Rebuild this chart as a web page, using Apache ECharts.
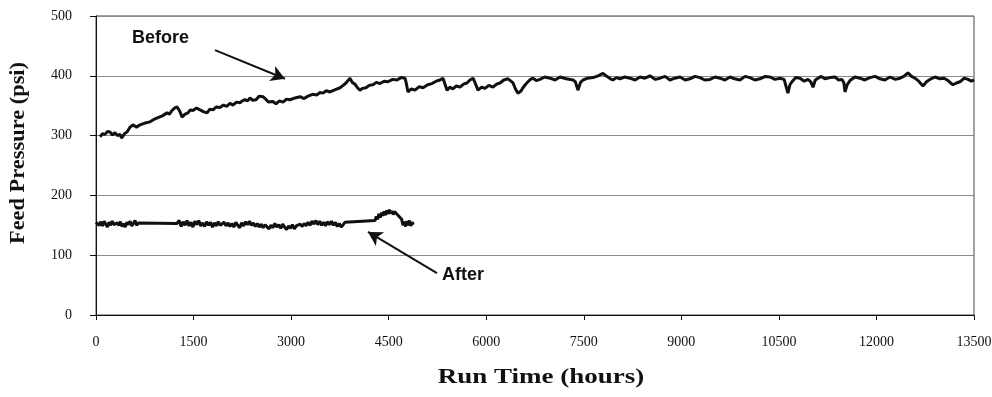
<!DOCTYPE html>
<html>
<head>
<meta charset="utf-8">
<script src="https://cdn.jsdelivr.net/npm/echarts@6/dist/echarts.min.js"></script>
<style>
  html, body { margin: 0; padding: 0; background: #fff; }
  #chart { width: 992px; height: 397px; }
</style>
</head>
<body>
<div id="chart"></div>
<script>
// run time ticks (hours) and pressure ticks (psi)
var xTicks = [0, 1500, 3000, 4500, 6000, 7500, 9000, 10500, 12000, 13500];
var yTicks = [0, 100, 200, 300, 400, 500];

// "Before" run: hours / feed pressure
var beforeHours = [62, 100, 138, 177, 215, 254, 292, 330, 369, 392, 415, 446, 477, 523, 569, 623,
  677, 753, 830, 890, 953, 1020, 1092, 1130, 1169, 1207, 1245, 1270, 1292, 1322, 1370, 1415,
  1450, 1491, 1545, 1599, 1650, 1707, 1750, 1799, 1850, 1907, 1960, 2014, 2060, 2106, 2160, 2214,
  2250, 2291, 2330, 2368, 2410, 2460, 2510, 2568, 2600, 2629, 2650, 2675, 2720, 2768, 2820, 2875,
  2930, 2983, 3060, 3137, 3200, 3260, 3330, 3398, 3440, 3490, 3540, 3598, 3680, 3752, 3800, 3844,
  3875, 3905, 3940, 3982, 4020, 4059, 4100, 4151, 4200, 4259, 4310, 4367, 4430, 4490, 4560, 4628,
  4690, 4751, 4770, 4797, 4850, 4905, 4970, 5028, 5100, 5166, 5230, 5289, 5335, 5360, 5397, 5440,
  5489, 5540, 5597, 5650, 5704, 5750, 5797, 5830, 5873, 5930, 5981, 6040, 6104, 6160, 6212, 6270,
  6335, 6380, 6412, 6450, 6488, 6530, 6565, 6600, 6642, 6680, 6719, 6770, 6826, 6900, 6980, 7060,
  7134, 7230, 7334, 7370, 7410, 7450, 7487, 7560, 7641, 7720, 7795, 7830, 7872, 7910, 7949, 8000,
  8057, 8130, 8210, 8290, 8364, 8440, 8518, 8600, 8672, 8750, 8825, 8900, 8979, 9060, 9133, 9210,
  9287, 9360, 9440, 9520, 9594, 9670, 9748, 9820, 9902, 9980, 10055, 10130, 10209, 10290, 10363, 10440,
  10517, 10580, 10639, 10670, 10701, 10760, 10824, 10890, 10947, 10990, 11024, 11060, 11101, 11150, 11208, 11290,
  11362, 11420, 11470, 11500, 11516, 11550, 11593, 11670, 11747, 11820, 11900, 11980, 12054, 12130, 12208, 12290,
  12362, 12420, 12484, 12540, 12592, 12650, 12715, 12770, 12823, 12900, 12977, 13040, 13100, 13140, 13176, 13230,
  13284, 13350, 13407, 13460, 13500];
var beforePsi = [298, 303, 302, 307, 306, 301, 305, 300, 302, 296, 298, 304, 306, 314, 318, 314,
  318, 321, 323, 327, 330, 333, 338, 336, 342, 346, 348, 344, 340, 331, 336, 338,
  343, 342, 346, 343, 340, 338, 344, 343, 348, 347, 351, 349, 354, 351, 356, 355,
  358, 360, 358, 363, 359, 360, 366, 365, 362, 360, 356, 354, 357, 353, 358, 356,
  361, 360, 363, 365, 362, 366, 369, 368, 372, 371, 375, 373, 377, 380, 384, 388,
  392, 396, 389, 386, 380, 376, 379, 380, 384, 385, 389, 387, 391, 390, 394, 393,
  397, 396, 388, 373, 378, 376, 382, 380, 385, 387, 391, 393, 396, 388, 376, 381,
  378, 383, 381, 386, 388, 393, 396, 388, 376, 381, 379, 384, 381, 386, 388, 393,
  395, 391, 388, 378, 371, 374, 380, 385, 390, 394, 396, 392, 394, 398, 396, 393,
  398, 395, 393, 390, 376, 389, 393, 396, 397, 400, 404, 401, 398, 395, 393, 397,
  395, 398, 396, 393, 398, 396, 400, 394, 396, 399, 393, 396, 398, 393, 395, 399,
  397, 393, 394, 398, 396, 393, 398, 395, 393, 399, 397, 393, 395, 399, 398, 394,
  396, 394, 371, 385, 390, 397, 396, 391, 394, 390, 381, 393, 396, 399, 395, 397,
  398, 393, 394, 388, 373, 385, 392, 398, 396, 393, 397, 399, 395, 393, 398, 394,
  396, 399, 405, 399, 396, 391, 383, 390, 394, 398, 395, 396, 392, 388, 385, 388,
  390, 396, 394, 391, 393];

// "After" run: hours / feed pressure
var afterHours = [0, 25, 50, 75, 100, 125, 150, 175, 200, 225, 250, 275, 300, 325, 350, 375,
  400, 425, 450, 475, 500, 525, 550, 575, 600, 625, 650, 676,
  1245, 1280, 1310, 1340, 1370, 1400, 1430, 1460, 1490, 1520, 1550, 1580, 1610, 1640, 1670, 1700,
  1730, 1760, 1790, 1820, 1850, 1880, 1910, 1940, 1970, 2000, 2030, 2060, 2090, 2120, 2150, 2180,
  2210, 2240, 2270, 2300, 2330, 2360, 2390, 2420, 2450, 2480, 2510, 2540, 2570, 2600, 2630, 2660,
  2690, 2720, 2750, 2780, 2810, 2840, 2870, 2900, 2930, 2960, 2990, 3020, 3050, 3080, 3110, 3140,
  3170, 3200, 3230, 3260, 3290, 3320, 3350, 3380, 3410, 3440, 3470, 3500, 3530, 3560, 3590, 3620,
  3650, 3680, 3710, 3740, 3770, 3800, 3828,
  4290, 4310, 4330, 4350, 4370, 4390, 4410, 4430, 4450, 4470, 4490, 4510, 4530, 4550, 4570, 4590,
  4620, 4650, 4680, 4700, 4720, 4740, 4760, 4780, 4800, 4820, 4840, 4860, 4880];
var afterPsi = [155, 158, 150, 156, 149, 157, 152, 147, 155, 150, 157, 151, 148, 154, 150, 156,
  148, 153, 147, 155, 151, 157, 149, 153, 158, 150, 154, 153,
  153, 158, 148, 156, 150, 158, 149, 155, 147, 157, 151, 158, 149, 154, 148, 156,
  150, 155, 147, 154, 149, 156, 150, 147, 155, 149, 154, 148, 153, 147, 155, 150,
  146, 154, 149, 156, 151, 157, 150, 154, 148, 153, 147, 152, 146, 151, 148, 144,
  150, 146, 153, 147, 151, 145, 152, 147, 143, 149, 145, 151, 144, 149, 146, 152,
  148, 153, 149, 155, 150, 157, 152, 158, 151, 157, 150, 155, 149, 156, 151, 157,
  150, 155, 148, 153, 147, 151, 155,
  158, 165, 160, 169, 163, 171, 166, 173, 167, 175, 169, 176, 170, 174, 168, 173,
  170, 166, 163, 160, 150, 156, 148, 157, 150, 158, 149, 155, 151];

function pairs(xs, ys) {
  return xs.map(function (x, i) { return [x, ys[i]]; });
}

var serif = 'Liberation Serif';
var sans = 'Liberation Sans';

var myChart = echarts.init(document.getElementById('chart'));
option = {
    animation: false,
    grid: {
        left: 96, right: 18, top: 16, bottom: 82,
        outerBoundsMode: 'none',
        show: true, borderColor: '#444', borderWidth: 1
    },
    xAxis: {
        type: 'value',
        min: 0, max: 13500, interval: 1500,
        axisLine: { lineStyle: { color: '#111', width: 1 } },
        axisTick: { show: true, length: 5, lineStyle: { color: '#111' } },
        axisLabel: {
            margin: 20, fontFamily: serif, fontSize: 14, color: '#111',
            formatter: function (v) { return xTicks.indexOf(v) >= 0 ? String(v) : ''; }
        },
        splitLine: { show: false }
    },
    yAxis: {
        type: 'value',
        min: 0, max: 500, interval: 100,
        axisLine: { show: true, lineStyle: { color: '#111', width: 1 } },
        axisTick: { show: true, length: 6, lineStyle: { color: '#111' } },
        axisLabel: {
            margin: 24, fontFamily: serif, fontSize: 14, color: '#111',
            formatter: function (v) { return yTicks.indexOf(v) >= 0 ? String(v) : ''; }
        },
        splitLine: { show: true, lineStyle: { color: '#8a8a8a', width: 1 } }
    },
    series: [{
        name: 'Before',
        type: 'line',
        data: pairs(beforeHours, beforePsi),
        showSymbol: false,
        lineStyle: { color: '#111', width: 3 },
        markLine: {
            silent: true,
            symbol: ['none', 'arrow'],
            symbolSize: [12, 14],
            label: { show: false },
            lineStyle: { color: '#111', width: 2, type: 'solid' },
            data: [[{ coord: [1830, 443] }, { coord: [2906, 395] }]]
        }
    }, {
        name: 'After',
        type: 'line',
        data: pairs(afterHours, afterPsi),
        showSymbol: false,
        lineStyle: { color: '#111', width: 3 },
        markLine: {
            silent: true,
            symbol: ['none', 'arrow'],
            symbolSize: [12, 14],
            label: { show: false },
            lineStyle: { color: '#111', width: 2, type: 'solid' },
            data: [[{ coord: [5243, 70] }, { coord: [4182, 139] }]]
        }
    }],
    graphic: [{
        type: 'text', left: 132, top: 29,
        style: { text: 'Before', fontFamily: sans, fontWeight: 'bold', fontSize: 18, fill: '#111' }
    }, {
        type: 'text', left: 442, top: 266,
        style: { text: 'After', fontFamily: sans, fontWeight: 'bold', fontSize: 18, fill: '#111' }
    }, {
        // x axis title
        type: 'text', x: 541, y: 378, scaleX: 1.35,
        style: {
            text: 'Run Time (hours)', fontFamily: serif, fontWeight: 'bold', fontSize: 20,
            fill: '#111', align: 'center', verticalAlign: 'middle'
        }
    }, {
        // y axis title
        type: 'text', x: 19, y: 153, rotation: Math.PI / 2, scaleX: 1.12,
        style: {
            text: 'Feed Pressure (psi)', fontFamily: serif, fontWeight: 'bold', fontSize: 20,
            fill: '#111', align: 'center', verticalAlign: 'middle'
        }
    }]
};
myChart.setOption(option);
</script>
</body>
</html>
